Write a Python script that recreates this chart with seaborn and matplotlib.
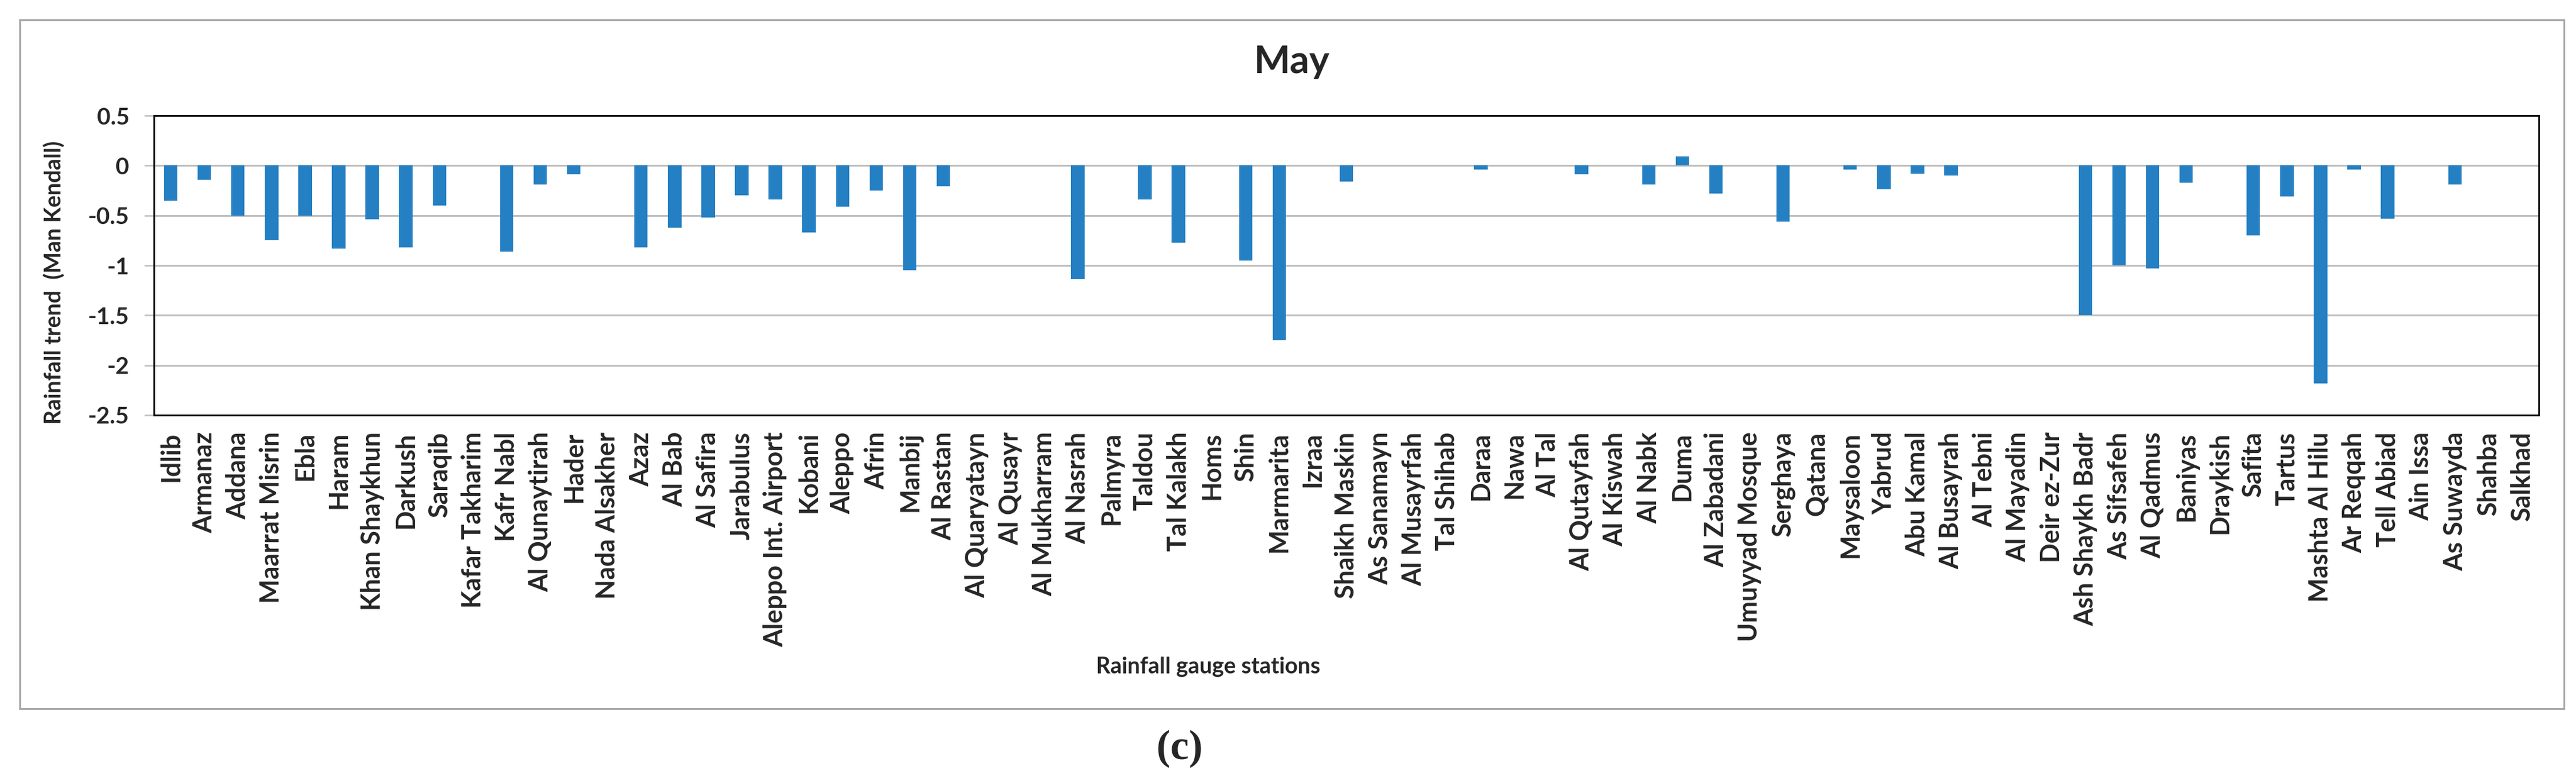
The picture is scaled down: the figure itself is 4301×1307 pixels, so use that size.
import numpy as np
import pandas as pd
import matplotlib
matplotlib.use("Agg")
import matplotlib.pyplot as plt
import seaborn as sns
from matplotlib.patches import Rectangle

# Mann-Kendall rainfall trend for May, per gauge station
stations = [
    "Idlib", "Armanaz", "Addana", "Maarrat Misrin", "Ebla", "Haram",
    "Khan Shaykhun", "Darkush", "Saraqib", "Kafar Takharim", "Kafr Nabl",
    "Al Qunaytirah", "Hader", "Nada Alsakher", "Azaz", "Al Bab", "Al Safira",
    "Jarabulus", "Aleppo Int. Airport", "Kobani", "Aleppo", "Afrin", "Manbij",
    "Al Rastan", "Al Quaryatayn", "Al Qusayr", "Al Mukharram", "Al Nasrah",
    "Palmyra", "Taldou", "Tal Kalakh", "Homs", "Shin", "Marmarita", "Izraa",
    "Shaikh Maskin", "As Sanamayn", "Al Musayrfah", "Tal Shihab", "Daraa",
    "Nawa", "Al Tal", "Al Qutayfah", "Al Kiswah", "Al Nabk", "Duma",
    "Al Zabadani", "Umuyyad Mosque", "Serghaya", "Qatana", "Maysaloon",
    "Yabrud", "Abu Kamal", "Al Busayrah", "Al Tebni", "Al Mayadin",
    "Deir ez-Zur", "Ash Shaykh Badr", "As Sifsafeh", "Al Qadmus", "Baniyas",
    "Draykish", "Safita", "Tartus", "Mashta Al Hilu", "Ar Reqqah",
    "Tell Abiad", "Ain Issa", "As Suwayda", "Shahba", "Salkhad",
]
trend = [
    -0.35, -0.14, -0.50, -0.75, -0.50, -0.83,
    -0.54, -0.82, -0.40, 0.0, -0.86,
    -0.19, -0.09, 0.0, -0.82, -0.62, -0.52,
    -0.30, -0.34, -0.67, -0.41, -0.25, -1.05,
    -0.21, 0.0, 0.0, 0.0, -1.14,
    0.0, -0.34, -0.77, 0.0, -0.95, -1.75, 0.0,
    -0.16, 0.0, 0.0, 0.0, -0.04,
    0.0, 0.0, -0.09, 0.0, -0.19, 0.09,
    -0.28, 0.0, -0.56, 0.0, -0.04,
    -0.24, -0.08, -0.10, 0.0, 0.0,
    0.0, -1.50, -1.00, -1.03, -0.17,
    0.0, -0.70, -0.31, -2.18, -0.04,
    -0.53, 0.0, -0.19, 0.0, 0.0,
]
yticks = [0.5, 0, -0.5, -1, -1.5, -2, -2.5]
ytick_labels = ["0.5", "0", "-0.5", "-1", "-1.5", "-2", "-2.5"]

df = pd.DataFrame({"station": stations, "trend": trend})

sns.set_style("white")
plt.rcParams["font.family"] = ["Lato", "DejaVu Sans"]

W, H = 4301, 1307
fig = plt.figure(figsize=(W / 100, H / 100), dpi=100)

# outer chart frame
fig.patches.append(Rectangle((33 / W, 1 - 1183 / H), 4248 / W, 1150 / H,
                             transform=fig.transFigure, fill=False,
                             edgecolor="#a6a6a6", linewidth=2.2, zorder=0))

ax = fig.add_axes([257 / W, 1 - 693 / H, 3982 / W, 500 / H])
sns.barplot(data=df, x="station", y="trend", color="#2580c3",
            saturation=1, width=0.4, linewidth=0, ax=ax, zorder=3)

ax.set_ylim(-2.5, 0.5)
ax.set_xlim(-0.5, len(stations) - 0.5)
ax.set_yticks(yticks)
ax.set_yticklabels(ytick_labels, fontsize=28, fontweight="bold")
ax.grid(axis="y", color="#bfbfbf", linewidth=2.2, zorder=0)
ax.set_axisbelow(True)
ax.tick_params(axis="y", length=11.5, width=1.8, color="#bfbfbf", pad=18,
               direction="out", left=True)
ax.tick_params(axis="x", length=0, pad=20)
for lbl in ax.get_xticklabels():
    lbl.set_rotation(90)
    lbl.set_fontsize(31)
    lbl.set_fontweight("bold")
    lbl.set_ha("center")
    lbl.set_va("top")

for sp in ax.spines.values():
    sp.set_visible(True)
    sp.set_color("black")
    sp.set_linewidth(2.0)

ax.set_xlabel("")
ax.set_ylabel("Rainfall trend  (Man Kendall)", fontsize=27, fontweight="bold")
ax.yaxis.set_label_coords(-0.0374, 0.444)

fig.text(2157 / W, 1 - 103 / H, "May", ha="center", va="center",
         fontsize=46, fontweight="bold")
fig.text(2017 / W, 1 - 1113 / H, "Rainfall gauge stations", ha="center",
         va="center", fontsize=27, fontweight="bold")
fig.text(1970 / W, 1 - 1250 / H, "(c)", ha="center", va="center",
         fontsize=50, fontweight="bold", family=["Liberation Serif", "DejaVu Serif"])

fig.savefig("out.png", dpi=100, facecolor="white")
